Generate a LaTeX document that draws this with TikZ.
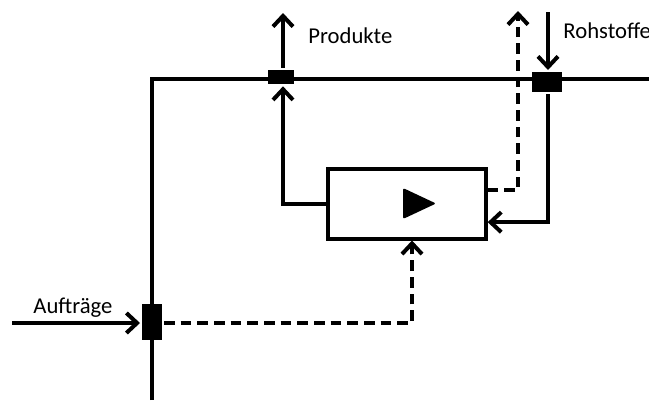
\documentclass[tikz,border=0pt]{standalone}
\usepackage{fontspec}
\setmainfont{Carlito}
\usetikzlibrary{arrows.meta}

\begin{document}
\begin{tikzpicture}[x=0.75pt, y=-0.75pt, line width=3pt,
                    >={Straight Barb[length=8pt, width=15pt]},
                    flowdash/.style={dash pattern=on 8pt off 4.5pt},
                    knotwide/.style={fill, inner sep=0pt, minimum width=20pt, minimum height=11pt},
                    knottall/.style={fill, inner sep=0pt, minimum width=15pt, minimum height=27pt},
                    procbox/.style={draw, fill=white, inner sep=0pt, minimum width=118pt, minimum height=52.5pt},
                    lbl/.style={anchor=base west, font=\fontsize{17}{20}\selectfont}]
  \useasboundingbox (0,0) rectangle (649,400);
  % main lines
  \coordinate (corner) at (152,79);
  \coordinate (rightend) at (649,79);
  \coordinate (bottomend) at (152,400);
  \draw (bottomend) -- (corner) -- (rightend);
  % junctions and process
  \node[knotwide] (jprod) at (281,77) {};
  \node[knotwide, minimum width=22pt, minimum height=15pt] (jroh) at (547,82) {};
  \node[knottall] (jord) at (152,322) {};
  \node[procbox] (proc) at (407,203.5) {};
  \fill[rounded corners=1.5pt] (403,188) -- (436,203.5) -- (403,219) -- cycle;
  % free ends
  \coordinate (prodout) at (283,13);
  \coordinate (rohin) at (548,12);
  \coordinate (wasteout) at (518,11);
  \coordinate (ordin) at (12,323);
  % flows
  \draw[->] (jprod.north -| prodout) -- (prodout);
  \draw[->] (proc.west) -| (jprod.south -| prodout);
  \draw[->] (rohin) -- (jroh.north -| rohin);
  \draw[->] (jroh.south -| rohin) |- ([yshift=-14pt]proc.east);
  \draw[->, flowdash] ([yshift=10pt]proc.east) -| (wasteout);
  \draw[->] (ordin) -- (jord.west |- ordin);
  \draw[->, flowdash] (jord.east |- ordin) -| ([xshift=3.75pt]proc.south);
  % labels
  \node[lbl] (prodlabel) at (302,43) {Produkte};
  \node[lbl] (rohlabel) at (557,38) {Rohstoffe};
  \node[lbl] (ordlabel) at (27,313) {Aufträge};
\end{tikzpicture}
\end{document}
